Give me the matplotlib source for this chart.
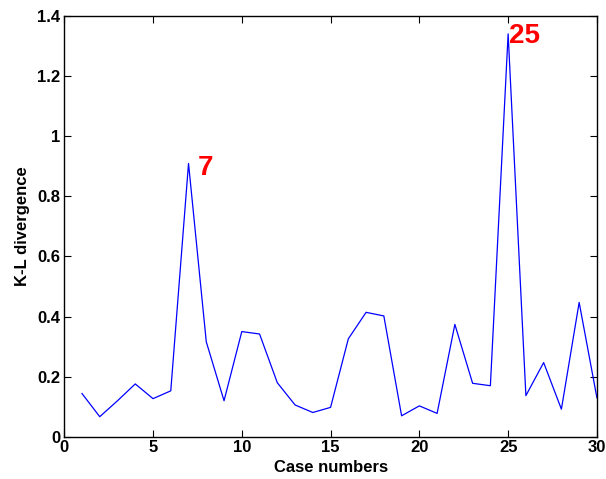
import numpy as np
import matplotlib.pyplot as plt

# --- Data ---
cases = np.arange(1, 31)
kl_div = [0.144, 0.067, 0.120, 0.176, 0.127, 0.153, 0.909, 0.316, 0.120, 0.350,
          0.342, 0.180, 0.106, 0.081, 0.098, 0.326, 0.414, 0.402, 0.070, 0.103,
          0.078, 0.374, 0.178, 0.170, 1.340, 0.137, 0.247, 0.092, 0.447, 0.130]
peak_labels = ["7", "25"]
peak_pos = [(7.5, 0.87), (25.05, 1.31)]

plt.rcParams['font.family'] = ['Liberation Sans', 'DejaVu Sans']
plt.rcParams['font.weight'] = 'bold'

fig = plt.figure(figsize=(6.06, 4.79), dpi=100)
ax = fig.add_axes([0.106, 0.088, 0.879, 0.879])

ax.plot(cases, kl_div, color='blue', linewidth=0.9)

for lab, (px, py) in zip(peak_labels, peak_pos):
    ax.text(px, py, lab, color='red', fontsize=20, fontweight='bold',
            ha='left', va='baseline')

ax.set_xlim(0, 30)
ax.set_ylim(0, 1.4)
ax.set_xticks(np.arange(0, 31, 5))
ax.set_yticks(np.arange(0, 1.41, 0.2))
ax.set_yticklabels(['0', '0.2', '0.4', '0.6', '0.8', '1', '1.2', '1.4'])
ax.tick_params(direction='in', length=5, width=0.8, labelsize=12,
               top=True, right=True)
ax.tick_params(axis='x', pad=2)
ax.tick_params(axis='y', pad=3)
for lbl in ax.get_xticklabels() + ax.get_yticklabels():
    lbl.set_fontweight('bold')
for sp in ax.spines.values():
    sp.set_linewidth(1.0)

ax.set_xlabel("Case numbers", fontsize=12, fontweight='bold', labelpad=4)
ax.set_ylabel("K-L divergence", fontsize=12, fontweight='bold', labelpad=5)

fig.savefig("out.png", dpi=100)
